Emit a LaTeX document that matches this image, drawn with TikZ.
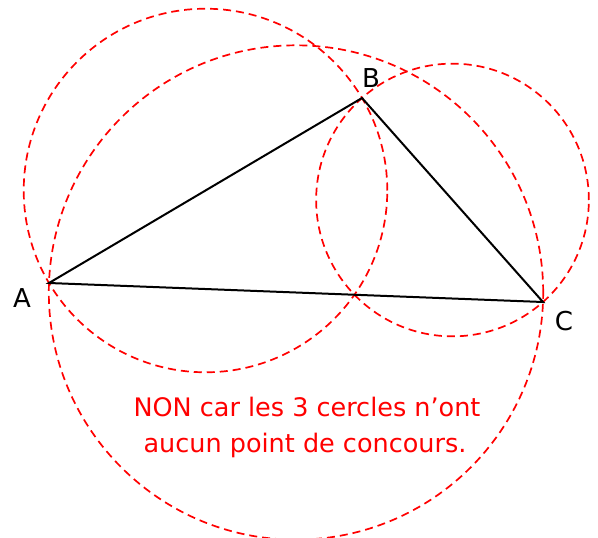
\documentclass[tikz,border=0pt]{standalone}
\usepackage{fontspec}
\setmainfont{DejaVu Sans}
\usetikzlibrary{calc}
\begin{document}
\begin{tikzpicture}[x=1pt,y=-1pt,
        cercle/.style={red, dash pattern=on 8pt off 5pt, line width=1.7pt},
        sommet/.style={anchor=base, font=\fontsize{26}{30}\selectfont},
        remarque/.style={anchor=base, red, font=\fontsize{25.5}{36}\selectfont}]
        \useasboundingbox (0,0) rectangle (598,538);
        % Sommets
        \coordinate (A) at (49,283);
        \coordinate (B) at (362,98);
        \coordinate (C) at (543,302);
        % Cercles de diametres [AB], [BC] et [AC]
        \draw[cercle] let \p1 = ($(B)-(A)$) in ($(A)!0.5!(B)$) circle ({veclen(\x1,\y1)/2});
        \draw[cercle] let \p1 = ($(C)-(B)$) in ($(B)!0.5!(C)$) circle ({veclen(\x1,\y1)/2});
        \draw[cercle] let \p1 = ($(C)-(A)$) in ($(A)!0.5!(C)$) circle ({veclen(\x1,\y1)/2});
        % Triangle
        \draw[line width=2pt] (A) -- (B) -- (C) -- cycle;
        % Noms des points
        \node[sommet] (nomA) at (22,307) {A};
        \node[sommet] (nomB) at (371,87) {B};
        \node[sommet] (nomC) at (564,330) {C};
        % Conclusion
        \node[remarque] (ligne1) at (307,416) {NON car les 3 cercles n’ont};
        \node[remarque] (ligne2) at (305,452) {aucun point de concours.};
    \end{tikzpicture}
\end{document}
